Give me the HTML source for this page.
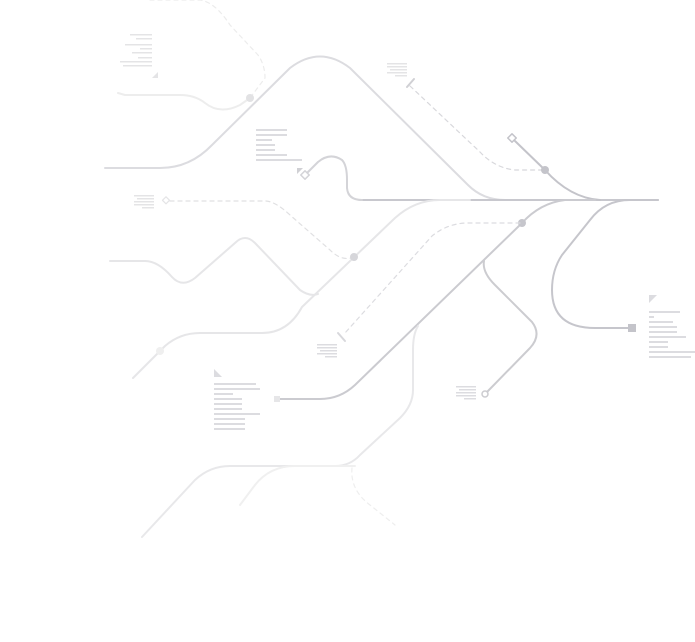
<!DOCTYPE html>
<html><head><style>html,body{margin:0;padding:0;background:#fff}svg{display:block}</style></head><body>
<svg width="695" height="642" viewBox="0 0 695 642" xmlns="http://www.w3.org/2000/svg" fill="none" stroke-linecap="round" stroke-linejoin="round">
<path d="M150,0 L200,0 Q215,2 230,25 L258,55 Q265,65 265,78 L250,98" stroke="#ececec" stroke-width="1.2" stroke-dasharray="4,4"/>
<path d="M118,93 L125,95 L180,95 Q195,95 205,103 Q220,115 240,105 L250,98" stroke="#ededed" stroke-width="2"/>
<path d="M105,168 L160,168 Q190,168 212,145 L290,68 Q320,45 350,68 L468,185 Q483,200 505,200" stroke="#dcdce0" stroke-width="2"/>
<circle cx="250" cy="98" r="4" fill="#e2e2e4"/>
<path d="M360,200 L658,200" stroke="#c8c8ce" stroke-width="2"/>
<path d="M305,175 L318,162 Q330,152 342,160 Q347,165 347,180 L347,188 Q348,200 362,200" stroke="#d4d4d8" stroke-width="2"/>
<rect x="302" y="172" width="6" height="6" transform="rotate(45 305 175)" fill="#fff" stroke="#d4d4d8" stroke-width="1.5"/>
<path d="M297,168 L303,168 L297,174Z" fill="#d0d0d4"/>
<path d="M410,86 L480,152 Q495,168 515,170 L545,170" stroke="#d8d8dc" stroke-width="1.2" stroke-dasharray="4,4"/>
<path d="M407,87 L414,79" stroke="#d0d0d4" stroke-width="2"/>
<path d="M515,141 L545,170 Q570,198 600,200" stroke="#c4c4ca" stroke-width="2"/>
<rect x="509" y="135" width="6" height="6" transform="rotate(45 512 138)" fill="#fff" stroke="#c4c4ca" stroke-width="1.5"/>
<circle cx="545" cy="170" r="4" fill="#c4c4ca"/>
<path d="M658,200 L630,200 Q605,200 590,220 L562,255 Q552,270 552,290 Q552,328 595,328 L632,328" stroke="#c6c6cc" stroke-width="2"/>
<rect x="628" y="324" width="8" height="8" fill="#c4c4ca"/>
<path d="M595,200 L565,200 Q540,203 522,223 L355,385 Q340,399 320,399 L277,399" stroke="#cbcbd0" stroke-width="2"/>
<rect x="274" y="396" width="6" height="6" fill="#e6e6e8"/>
<circle cx="522" cy="223" r="4" fill="#c6c6cc"/>
<path d="M484,261 Q482,272 495,285 L532,322 Q542,335 530,348 L487,392" stroke="#ccccd0" stroke-width="2"/>
<circle cx="485" cy="394" r="3" fill="#fff" stroke="#ccccd0" stroke-width="1.5"/>
<path d="M418,326 Q413,334 413,350 L413,390 Q413,405 400,418 L360,455 Q350,466 335,466 L230,466 Q210,466 195,480 L142,537" stroke="#e8e8ea" stroke-width="2"/>
<path d="M355,466 L295,466 Q270,466 255,485 L240,505" stroke="#f0f0f0" stroke-width="2"/>
<path d="M352,468 Q350,490 370,505 L395,525" stroke="#eeeeee" stroke-width="1.2" stroke-dasharray="4,4"/>
<path d="M520,223 L468,223 Q448,223 432,236 L345,333" stroke="#dcdce0" stroke-width="1.2" stroke-dasharray="4,4"/>
<path d="M338,333 L345,341" stroke="#d8d8dc" stroke-width="2"/>
<path d="M470,200 L440,200 Q415,200 395,218 L302,307 Q288,333 262,333 L200,333 Q180,333 165,346 L133,378" stroke="#e6e6e8" stroke-width="2"/>
<circle cx="160" cy="351" r="4" fill="#efefef"/>
<path d="M110,261 L145,261 Q158,261 172,277 Q182,288 195,278 L235,243 Q245,233 255,243 L300,290 Q310,297 318,294" stroke="#e6e6e8" stroke-width="2"/>
<path d="M170,201 L265,201 Q275,201 290,215 L330,250 Q342,262 354,257" stroke="#e0e0e2" stroke-width="1.2" stroke-dasharray="4,4"/>
<circle cx="354" cy="257" r="4" fill="#d6d6da"/>
<rect x="163" y="198" width="5" height="5" transform="rotate(45 166 201)" fill="#fff" stroke="#e4e4e6" stroke-width="1.2"/>
<g fill="#e4e4e6">
<rect x="130" y="34" width="22" height="1.5"/><rect x="136" y="38" width="16" height="1.5"/><rect x="125" y="44" width="27" height="1.5"/><rect x="140" y="48" width="12" height="1.5"/><rect x="132" y="52" width="20" height="1.5"/><rect x="138" y="57" width="14" height="1.5"/><rect x="120" y="61" width="32" height="1.5"/><rect x="123" y="65" width="29" height="1.5"/>
<path d="M152,78 L158,72 L158,78Z"/>
<rect x="387" y="63" width="20" height="1.5"/><rect x="387" y="66" width="20" height="1.5"/><rect x="390" y="69" width="17" height="1.5"/><rect x="387" y="72" width="20" height="1.5"/><rect x="395" y="75" width="12" height="1.5"/>
<rect x="134" y="195" width="20" height="1.5"/><rect x="137" y="198" width="17" height="1.5"/><rect x="134" y="201" width="20" height="1.5"/><rect x="134" y="204" width="20" height="1.5"/><rect x="142" y="207" width="12" height="1.5"/>
</g>
<g fill="#dcdce0">
<rect x="256" y="129" width="31" height="2"/><rect x="256" y="134" width="31" height="2"/><rect x="256" y="139" width="16" height="2"/><rect x="256" y="144" width="19" height="2"/><rect x="256" y="149" width="19" height="2"/><rect x="256" y="154" width="31" height="2"/><rect x="256" y="159" width="46" height="2"/>
<rect x="317" y="344" width="20" height="1.5"/><rect x="317" y="347" width="20" height="1.5"/><rect x="320" y="350" width="17" height="1.5"/><rect x="317" y="353" width="20" height="1.5"/><rect x="325" y="356" width="12" height="1.5"/>
<rect x="456" y="386" width="20" height="1.5"/><rect x="459" y="389" width="17" height="1.5"/><rect x="456" y="392" width="20" height="1.5"/><rect x="456" y="395" width="20" height="1.5"/><rect x="464" y="398" width="12" height="1.5"/>
<path d="M214,369 L222,377 L214,377Z"/>
<rect x="214" y="383" width="42" height="2"/><rect x="214" y="388" width="46" height="2"/><rect x="214" y="393" width="19" height="2"/><rect x="214" y="398" width="28" height="2"/><rect x="214" y="403" width="28" height="2"/><rect x="214" y="408" width="28" height="2"/><rect x="214" y="413" width="46" height="2"/><rect x="214" y="418" width="31" height="2"/><rect x="214" y="423" width="31" height="2"/><rect x="214" y="428" width="31" height="2"/>
<path d="M649,295 L657,295 L649,303Z"/>
<rect x="649" y="311" width="31" height="2"/><rect x="649" y="316" width="5" height="2"/><rect x="649" y="321" width="24" height="2"/><rect x="649" y="326" width="28" height="2"/><rect x="649" y="331" width="28" height="2"/><rect x="649" y="336" width="37" height="2"/><rect x="649" y="341" width="19" height="2"/><rect x="649" y="346" width="19" height="2"/><rect x="649" y="351" width="46" height="2"/><rect x="649" y="356" width="42" height="2"/>
</g>
</svg>
</body></html>
